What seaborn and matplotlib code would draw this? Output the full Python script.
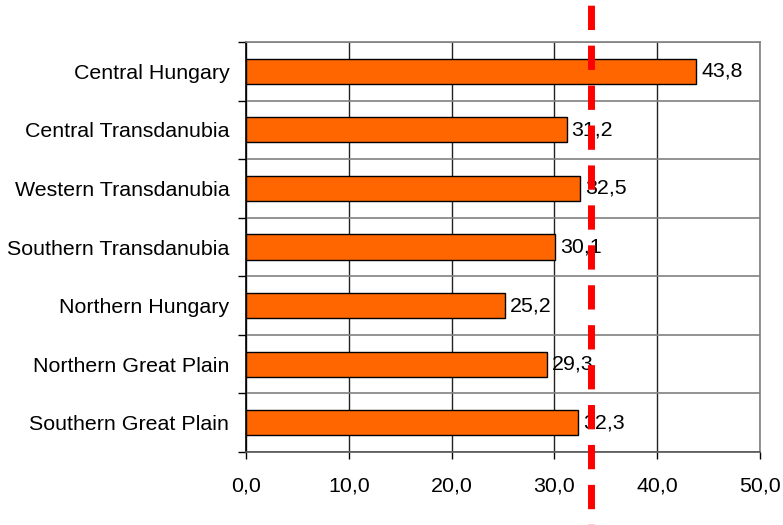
import matplotlib
matplotlib.use("Agg")
import matplotlib.pyplot as plt
import matplotlib.transforms as mtransforms
from matplotlib.lines import Line2D
from matplotlib.ticker import FixedLocator, FuncFormatter
import seaborn as sns
import pandas as pd

regions = ["Central Hungary", "Central Transdanubia", "Western Transdanubia",
           "Southern Transdanubia", "Northern Hungary", "Northern Great Plain",
           "Southern Great Plain"]
values = [43.8, 31.2, 32.5, 30.1, 25.2, 29.3, 32.3]
national_average = 33.6
x_ticks = [0, 10, 20, 30, 40, 50]

sns.set_theme(style="white")
plt.rcParams["font.family"] = ["Liberation Sans", "DejaVu Sans"]
FS = 15.4

df = pd.DataFrame({"region": regions, "value": values})

fig = plt.figure(figsize=(7.83, 5.25), dpi=100)
ax = fig.add_axes([246 / 783, 1 - 452 / 525, (760 - 246) / 783, (452 - 42) / 525])

sns.barplot(data=df, x="value", y="region", orient="h", color="#FF6600",
            saturation=1, edgecolor="black", linewidth=1.0, width=0.43, ax=ax)

ax.set_xlim(0, 50)
ax.set_ylim(len(regions) - 0.5, -0.5)
ax.set_xlabel("")
ax.set_ylabel("")

fmt = FuncFormatter(lambda v, p: f"{v:.1f}".replace(".", ","))
ax.xaxis.set_major_locator(FixedLocator(x_ticks))
ax.xaxis.set_major_formatter(fmt)
ax.tick_params(axis="x", labelsize=FS, colors="black", length=5, width=1,
               direction="out", bottom=True, pad=12.5)
ax.tick_params(axis="y", which="major", labelsize=FS, length=0, pad=12,
               labelcolor="black")

# category boundaries: tick marks on the left and horizontal grid lines
ax.yaxis.set_minor_locator(FixedLocator([i - 0.5 for i in range(len(regions) + 1)]))
ax.tick_params(axis="y", which="minor", length=6, width=1, color="black",
               direction="out", left=True)
ax.grid(True, axis="y", which="minor", color="#808080", linewidth=1.2)
ax.grid(True, axis="x", which="major", color="#222222", linewidth=1.0)
ax.set_axisbelow(True)

for side in ["top", "right"]:
    ax.spines[side].set_visible(True)
    ax.spines[side].set_color("#808080")
    ax.spines[side].set_linewidth(1.2)
ax.spines["left"].set_color("black")
ax.spines["left"].set_linewidth(1.2)
ax.spines["bottom"].set_color("#555555")
ax.spines["bottom"].set_linewidth(1.2)

for container in ax.containers:
    ax.bar_label(container, labels=[f"{v:.1f}".replace(".", ",") for v in values],
                 fontsize=FS, padding=3.5, color="black")

# national average line, spanning the full figure height
trans = mtransforms.blended_transform_factory(ax.transData, fig.transFigure)
avg_line = Line2D([national_average, national_average], [1, 0], transform=trans,
                  color="#FF0000", linewidth=5.0, linestyle=(5.0, (3.5, 2.25)),
                  zorder=10, clip_on=False)
fig.add_artist(avg_line)

fig.savefig("out.png", dpi=100)
